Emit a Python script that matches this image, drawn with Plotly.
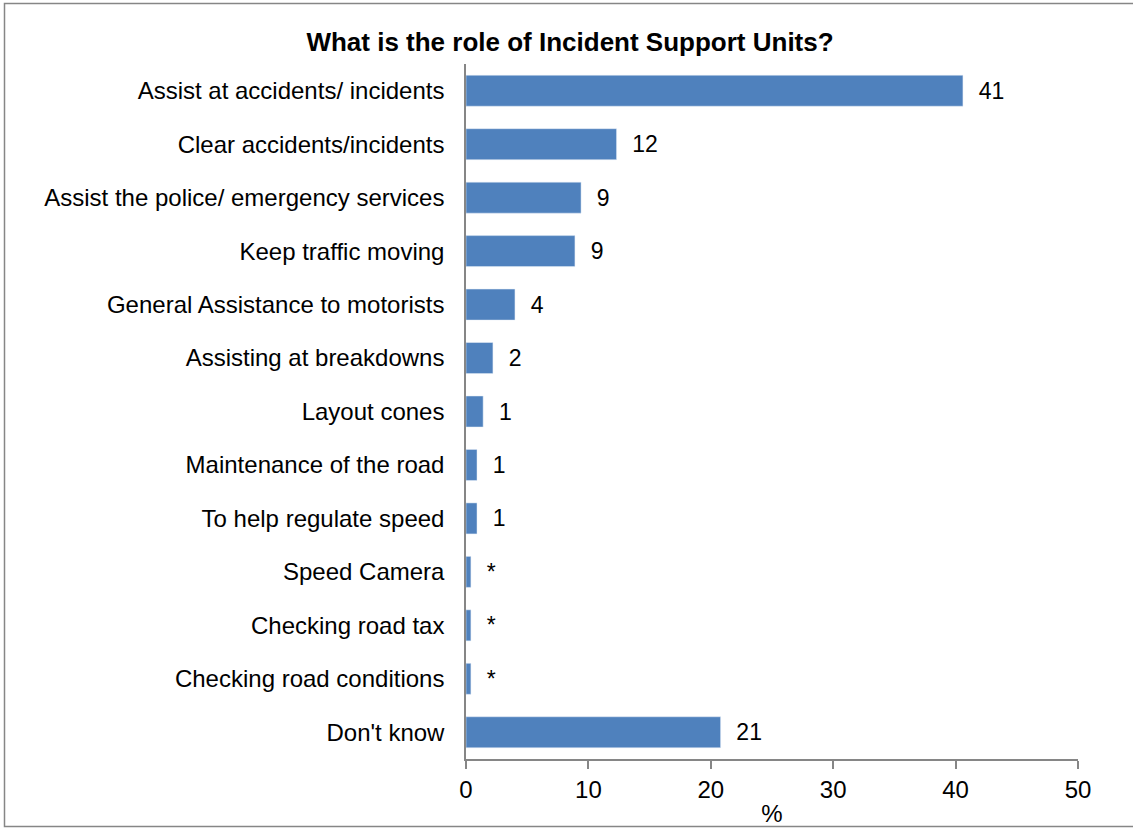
import plotly.graph_objects as go

# Survey responses, percentage of respondents
categories = [
    "Assist at accidents/ incidents",
    "Clear accidents/incidents",
    "Assist the police/ emergency services",
    "Keep traffic moving",
    "General Assistance to motorists",
    "Assisting at breakdowns",
    "Layout cones",
    "Maintenance of the road",
    "To help regulate speed",
    "Speed Camera",
    "Checking road tax",
    "Checking road conditions",
    "Don't know",
]
values = [40.6, 12.3, 9.4, 8.9, 4.0, 2.2, 1.4, 0.9, 0.9, 0.4, 0.4, 0.4, 20.8]
x_ticks = [0, 10, 20, 30, 40, 50]

# Values under 0.5% are shown as "*"
labels = ["*" if v < 0.5 else f"{v:.0f}" for v in values]

W, H = 1133, 829
L, R, T, B = 466, 55, 63.5, 70
pw, ph = W - L - R, H - T - B

FONT = "Liberation Sans, Arial, sans-serif"
AXIS_GREY = "#868686"
FS = 23

fig = go.Figure(
    go.Bar(
        x=values,
        y=categories,
        orientation="h",
        marker=dict(color="#4F81BD"),
        text=labels,
        texttemplate="  %{text}",
        textposition="outside",
        textfont=dict(family=FONT, size=FS, color="black"),
        cliponaxis=False,
        width=0.58,
    )
)

fig.update_layout(
    width=W,
    height=H,
    margin=dict(l=L, r=R, t=T, b=B),
    paper_bgcolor="white",
    plot_bgcolor="white",
    showlegend=False,
    font=dict(family=FONT, size=FS, color="black"),
    title=dict(
        text="<b>What is the role of Incident Support Units?</b>",
        x=570 / W,
        xanchor="center",
        y=1 - 42 / H,
        yanchor="middle",
        font=dict(family=FONT, size=26, color="black"),
    ),
)

fig.update_xaxes(
    range=[0, 50],
    tickvals=x_ticks,
    showgrid=False,
    zeroline=False,
    showline=True,
    linecolor=AXIS_GREY,
    linewidth=1.5,
    ticks="outside",
    ticklen=8,
    tickcolor=AXIS_GREY,
    tickwidth=1.5,
    tickfont=dict(family=FONT, size=24, color="black"),
    title=dict(text="%", font=dict(family=FONT, size=24, color="black"), standoff=4),
    automargin=False,
)

fig.update_yaxes(
    autorange="reversed",
    showgrid=False,
    showline=True,
    linecolor=AXIS_GREY,
    linewidth=1.5,
    ticks="",
    ticklabelstandoff=15,
    tickfont=dict(family=FONT, size=24, color="black"),
    automargin=False,
)

# Outer chart frame
def px_to_paper_x(px):
    return (px - L) / pw

def px_to_paper_y(py):
    return (H - B - py) / ph

fig.add_shape(
    type="rect",
    xref="paper",
    yref="paper",
    x0=px_to_paper_x(4.5),
    x1=px_to_paper_x(1136),
    y0=px_to_paper_y(826.5),
    y1=px_to_paper_y(3),
    line=dict(color=AXIS_GREY, width=1.5),
    fillcolor="rgba(0,0,0,0)",
    layer="below",
)

# Value axis line continues down through the tick length
fig.add_shape(
    type="line",
    xref="x",
    yref="paper",
    x0=0,
    x1=0,
    y0=px_to_paper_y(767),
    y1=0,
    line=dict(color=AXIS_GREY, width=1.5),
)

fig.write_html("out.html")
